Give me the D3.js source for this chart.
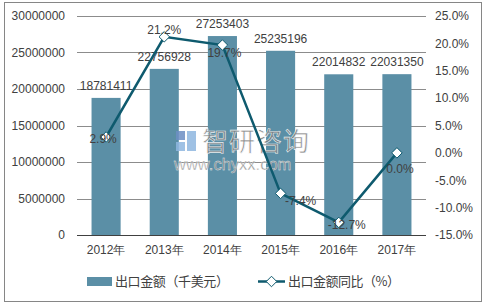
<!DOCTYPE html>
<html lang="zh">
<head>
<meta charset="UTF-8">
<title>出口金额</title>
<style>
  body { margin: 0; background: #fff; }
  svg { display: block; font-family: "Liberation Sans", Arial, "Noto Sans CJK SC", sans-serif; }
  .tick text { fill: #404040; font-size: 12px; }
  .lbl { fill: #404040; font-size: 12px; }
</style>
</head>
<body>
<svg id="chart" width="487" height="306"></svg>
<script src="https://d3js.org/d3.v7.min.js"></script>
<script>
// data
const years = ["2012年", "2013年", "2014年", "2015年", "2016年", "2017年"];
const amounts = [18781411, 22756928, 27253403, 25235196, 22014832, 22031350];
const growth = [2.9, 21.2, 19.7, -7.4, -12.7, 0.0];
const leftTicks = [0, 5000000, 10000000, 15000000, 20000000, 25000000, 30000000];
const rightTicks = [-15, -10, -5, 0, 5, 10, 15, 20, 25];

const svg = d3.select("#chart");
const m = { left: 77, right: 426, top: 16, bottom: 235 };

// outer frame
svg.append("rect")
  .attr("x", 4.5).attr("y", 2.5).attr("width", 477).attr("height", 299)
  .attr("fill", "none").attr("stroke", "#868686");

const x = d3.scaleBand().domain(years).range([m.left, m.right]).paddingInner(0.5).paddingOuter(0.25);
const xc = d => x(d) + x.bandwidth() / 2;
const y = d3.scaleLinear().domain([0, 30000000]).range([m.bottom, m.top]);
const y2 = d3.scaleLinear().domain([-15, 25]).range([m.bottom, m.top]);

// gridlines
svg.append("g").selectAll("line").data(leftTicks.slice(1)).enter().append("line")
  .attr("x1", m.left).attr("x2", m.right)
  .attr("y1", d => Math.round(y(d)) + 0.5).attr("y2", d => Math.round(y(d)) + 0.5)
  .attr("stroke", "#8c8c8c");

// left axis
const ya = svg.append("g").attr("transform", `translate(${m.left},0)`)
  .call(d3.axisLeft(y).tickValues(leftTicks).tickSize(0).tickPadding(12).tickFormat(d3.format("d")));
ya.select(".domain").remove();

// right axis
const yb = svg.append("g").attr("transform", `translate(${m.right},0)`)
  .call(d3.axisRight(y2).tickValues(rightTicks).tickSize(0).tickPadding(9).tickFormat(d => d.toFixed(1) + "%"));
yb.select(".domain").remove();

// bars
svg.append("g").selectAll("rect").data(amounts).enter().append("rect")
  .attr("x", (d, i) => x(years[i]))
  .attr("width", x.bandwidth())
  .attr("y", d => y(d))
  .attr("height", d => y(0) - y(d))
  .attr("fill", "#5b8fa6");

// bottom axis
const xa = svg.append("g").attr("transform", `translate(0,${m.bottom + 0.5})`)
  .call(d3.axisBottom(x).tickSize(0).tickPadding(10));
xa.select(".domain").attr("stroke", "#404040").attr("d", `M${m.left},0H${m.right}`);

// bar labels
svg.append("g").selectAll("text").data(amounts).enter().append("text")
  .attr("class", "lbl").attr("text-anchor", "middle")
  .attr("x", (d, i) => xc(years[i]))
  .attr("y", d => y(d) - 8)
  .text(d => d);

// watermark
const wm = svg.append("g").attr("opacity", 0.85);
wm.append("rect").attr("x", 176).attr("y", 131).attr("width", 9).attr("height", 9).attr("fill", "#6d8fc4");
wm.append("rect").attr("x", 187).attr("y", 131).attr("width", 9).attr("height", 20).attr("fill", "#8fb7e0");
wm.append("rect").attr("x", 176).attr("y", 142).attr("width", 9).attr("height", 9).attr("fill", "#8fb7e0");
wm.append("text").attr("x", 202).attr("y", 151).attr("font-size", 26)
  .attr("font-family", "Noto Sans CJK SC").attr("fill", "#7c7c7c")
  .attr("stroke", "#fff").attr("stroke-width", 0.6).attr("letter-spacing", 1).text("智研咨询");
wm.append("text").attr("x", 174).attr("y", 170).attr("font-size", 16.5)
  .attr("fill", "#7c7c7c").attr("stroke", "#fff").attr("stroke-width", 0.4).text("www.chyxx.com");

// line
const line = d3.line().x((d, i) => xc(years[i])).y(d => y2(d));
svg.append("path").datum(growth).attr("d", line)
  .attr("fill", "none").attr("stroke", "#0e5a6e").attr("stroke-width", 2.5);

const diamond = d3.symbol().type(d3.symbolDiamond2).size(70);
svg.append("g").selectAll("path").data(growth).enter().append("path")
  .attr("d", diamond)
  .attr("transform", (d, i) => `translate(${xc(years[i])},${y2(d)})`)
  .attr("fill", "#fff").attr("stroke", "#0e5a6e").attr("stroke-width", 1);

// line labels
const off = [[-3, 2], [0, -7], [2, 8], [20, 7], [8, 2], [3, 16]];
svg.append("g").selectAll("text").data(growth).enter().append("text")
  .attr("class", "lbl").attr("text-anchor", "middle")
  .attr("x", (d, i) => xc(years[i]) + off[i][0])
  .attr("y", (d, i) => y2(d) + off[i][1])
  .attr("dy", "0.35em")
  .text(d => d.toFixed(1) + "%");

// legend
const lg = svg.append("g").attr("class", "lbl");
lg.append("rect").attr("x", 87).attr("y", 277).attr("width", 25).attr("height", 9).attr("fill", "#5b8fa6");
lg.append("text").attr("x", 115).attr("y", 286).attr("font-size", 13)
  .attr("font-family", "Noto Sans CJK SC")
  .attr("textLength", 114).attr("lengthAdjust", "spacing").text("出口金额（千美元）");
lg.append("line").attr("x1", 258).attr("x2", 285).attr("y1", 281.5).attr("y2", 281.5)
  .attr("stroke", "#0e5a6e").attr("stroke-width", 2.5);
lg.append("path").attr("d", diamond).attr("transform", "translate(271.5,281.5)")
  .attr("fill", "#fff").attr("stroke", "#0e5a6e");
lg.append("text").attr("x", 288).attr("y", 286).attr("font-size", 13)
  .attr("font-family", "Noto Sans CJK SC")
  .attr("textLength", 112).attr("lengthAdjust", "spacing").text("出口金额同比（%）");
</script>
</body>
</html>
